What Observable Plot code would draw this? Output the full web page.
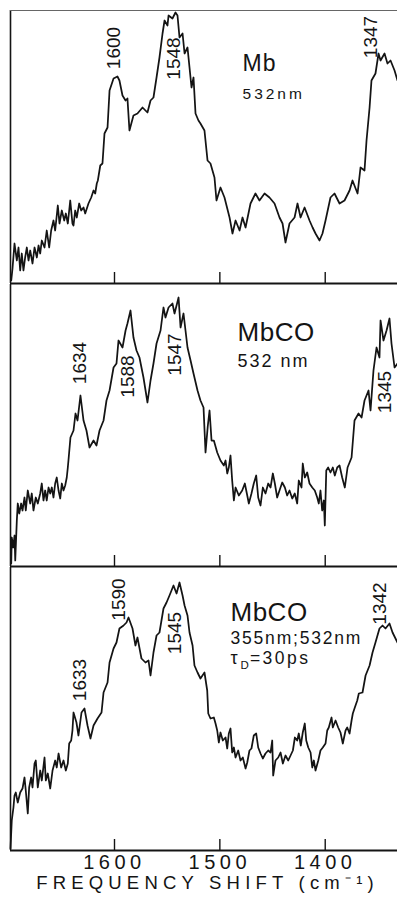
<!DOCTYPE html>
<html>
<head>
<meta charset="utf-8">
<script src="https://cdn.jsdelivr.net/npm/d3@7"></script>
<script src="https://cdn.jsdelivr.net/npm/@observablehq/plot@0.6"></script>
<style>
  html, body { margin: 0; padding: 0; background: #fff; }
  #chart svg { display: block; }
</style>
</head>
<body>
<div id="chart"></div>
<script>
// ---- axis ----
const xDomain = [1698.7, 1331.4];          // frequency shift, cm^-1 (reversed)
const tickValues = [1600, 1500, 1400];
const tickLabels = ["1600", "1500", "1400"];
const xLabel = "FREQUENCY SHIFT (cm⁻¹)";

// ---- panel 1 : Mb, 532 nm  [shift, intensity] ----
const mbSpectrum = [
  [1698.0,3],[1696.8,15],[1694.9,40],[1692.7,23],[1691.1,36],[1689.5,13],[1688.0,30],[1686.4,13],[1684.8,26],[1683.2,36],
  [1681.6,23],[1680.0,33],[1677.8,20],[1675.9,36],[1673.7,26],[1672.1,38],[1670.5,30],[1669.0,43],[1666.4,36],[1664.3,53],
  [1662.0,36],[1660.1,53],[1657.9,63],[1656.3,53],[1653.8,78],[1652.2,60],[1650.0,73],[1647.7,63],[1646.2,70],[1644.3,60],
  [1642.0,83],[1639.9,60],[1638.9,58],[1637.3,73],[1635.8,66],[1633.5,80],[1631.6,73],[1629.4,76],[1627.8,70],[1624.7,80],
  [1622.1,86],[1619.9,93],[1618.3,90],[1616.8,100],[1615.8,103],[1613.5,118],[1611.4,120],[1609.5,150],[1606.6,156],[1604.7,193],
  [1600.9,205],[1597.2,207],[1595.3,203],[1592.4,188],[1589.5,183],[1587.7,185],[1585.8,153],[1582.0,168],[1578.2,170],[1573.4,176],
  [1568.7,171],[1565.8,183],[1563.0,186],[1560.1,206],[1557.3,226],[1554.4,250],[1552.5,263],[1549.7,258],[1548.7,268],[1545.0,265],
  [1542.1,271],[1540.2,268],[1538.3,246],[1535.4,250],[1533.5,230],[1530.7,236],[1528.8,216],[1526.9,196],[1525.0,206],[1523.1,170],
  [1520.3,163],[1518.4,160],[1514.6,153],[1511.7,123],[1508.9,120],[1505.1,106],[1503.2,83],[1499.4,96],[1495.6,86],[1490.8,66],
  [1488.0,50],[1485.1,63],[1481.3,53],[1478.5,66],[1475.6,56],[1470.9,80],[1466.2,90],[1462.4,83],[1457.6,90],[1452.9,86],
  [1448.1,80],[1443.4,66],[1440.5,60],[1437.7,41],[1433.9,60],[1429.1,66],[1426.3,80],[1423.4,66],[1419.6,76],[1414.9,63],
  [1412.0,56],[1409.2,50],[1405.4,43],[1402.6,50],[1399.7,63],[1395.0,86],[1391.2,90],[1386.4,80],[1381.7,83],[1376.9,93],
  [1374.1,103],[1369.3,90],[1366.5,116],[1362.7,113],[1360.8,143],[1357.9,176],[1356.1,203],[1352.3,210],[1349.4,230],[1347.5,223],
  [1343.7,230],[1340.9,220],[1338.0,223],[1334.2,213],[1331.4,203]
];
const mbPeaks = [
  {label: "1600", x: 1601, y: 235.5},
  {label: "1548", x: 1544, y: 225},
  {label: "1347", x: 1357, y: 246.5}
];
const mbNotes = [
  {text: "Mb", x: 1478.5, y: 219.5, size: 23, spacing: 1},
  {text: "532nm", x: 1478.5, y: 189.5, size: 15.5, spacing: 3}
];

// ---- panel 2 : MbCO, 532 nm ----
const mbcoSpectrum = [
  [1698.0,3],[1697.5,29],[1696.1,19],[1694.9,31],[1694.2,6],[1692.7,46],[1691.8,63],[1690.4,53],[1688.6,63],[1687.3,56],
  [1685.4,69],[1684.2,56],[1682.3,76],[1680.0,63],[1678.5,73],[1676.9,56],[1674.7,69],[1672.8,63],[1670.5,73],[1669.0,83],
  [1667.4,66],[1665.8,76],[1664.3,66],[1662.6,79],[1661.0,73],[1659.5,79],[1657.9,69],[1656.3,83],[1654.8,89],[1653.1,76],
  [1651.5,68],[1650.0,83],[1648.4,76],[1646.8,81],[1645.3,89],[1644.3,99],[1643.7,106],[1641.8,129],[1638.9,136],[1637.0,153],
  [1635.1,146],[1632.3,171],[1629.4,146],[1626.6,136],[1623.7,119],[1619.9,126],[1617.1,121],[1614.2,136],[1610.4,146],[1607.6,166],
  [1604.7,176],[1600.9,199],[1598.1,203],[1596.2,226],[1592.4,219],[1589.5,236],[1587.7,243],[1584.8,256],[1582.0,229],[1579.1,216],
  [1576.3,209],[1572.5,189],[1568.7,164],[1565.8,186],[1563.0,203],[1560.1,223],[1556.3,236],[1553.5,259],[1551.6,249],[1548.7,259],
  [1545.0,263],[1543.0,253],[1539.2,269],[1537.3,239],[1534.5,253],[1532.6,236],[1530.7,219],[1527.8,206],[1525.0,193],[1521.2,176],
  [1518.4,166],[1515.5,159],[1513.6,114],[1511.5,140],[1509.8,156],[1507.9,126],[1505.7,126],[1502.5,114],[1499.4,106],[1496.2,101],
  [1494.6,106],[1493.0,93],[1491.5,99],[1489.9,111],[1488.3,86],[1486.7,66],[1485.1,79],[1482.0,71],[1478.8,76],[1476.3,83],
  [1474.0,71],[1472.5,63],[1470.0,73],[1467.8,83],[1465.5,91],[1463.6,69],[1461.4,61],[1459.2,79],[1456.7,73],[1454.1,83],
  [1451.9,79],[1449.7,93],[1447.8,83],[1445.6,69],[1443.4,76],[1440.8,84],[1438.3,79],[1436.1,71],[1433.9,76],[1431.3,68],
  [1428.9,73],[1426.6,63],[1425.1,86],[1422.5,79],[1421.3,103],[1419.4,89],[1417.1,94],[1414.9,83],[1412.3,79],[1409.9,76],
  [1407.6,69],[1406.1,63],[1404.5,76],[1402.9,56],[1401.3,66],[1400.4,41],[1399.0,96],[1397.2,99],[1395.0,94],[1392.8,99],
  [1390.9,91],[1388.6,99],[1386.4,101],[1383.9,89],[1381.4,79],[1378.8,99],[1375.0,109],[1372.2,146],[1368.4,153],[1365.5,149],
  [1362.7,166],[1358.9,176],[1357.0,156],[1354.2,196],[1351.3,219],[1348.5,209],[1347.5,246],[1344.7,226],[1341.8,236],[1339.0,248],
  [1337.1,223],[1334.2,199],[1331.4,203]
];
const mbcoPeaks = [
  {label: "1634", x: 1633.2, y: 203.5},
  {label: "1588", x: 1587.2, y: 190},
  {label: "1547", x: 1543.0, y: 212},
  {label: "1345", x: 1343.7, y: 174.5}
];
const mbcoNotes = [
  {text: "MbCO", x: 1483.2, y: 234, size: 26, spacing: 0.5},
  {text: "532 nm", x: 1483.2, y: 205.5, size: 18, spacing: 2}
];

// ---- panel 3 : MbCO, 355 nm ; 532 nm, tau_D = 30 ps ----
const pumpSpectrum = [
  [1698.7,2],[1697.5,30],[1695.9,43],[1694.9,55],[1693.7,58],[1691.8,48],[1689.5,58],[1687.3,62],[1685.4,73],[1684.2,60],
  [1682.3,37],[1681.0,63],[1679.1,73],[1677.8,63],[1675.9,87],[1674.7,90],[1672.8,63],[1670.5,80],[1669.0,70],[1666.4,93],
  [1665.2,70],[1663.3,77],[1661.0,62],[1658.8,80],[1656.3,90],[1654.8,83],[1653.1,97],[1650.6,83],[1648.4,90],[1646.2,80],
  [1644.3,87],[1643.0,107],[1641.1,110],[1639.9,120],[1638.9,138],[1636.1,128],[1634.2,115],[1631.3,138],[1628.5,142],[1625.6,125],
  [1622.8,112],[1619.9,125],[1616.1,132],[1612.3,138],[1610.4,158],[1606.6,168],[1604.7,188],[1600.9,202],[1598.1,208],[1595.3,222],
  [1591.4,225],[1588.6,228],[1586.7,233],[1582.9,222],[1580.1,205],[1578.2,213],[1574.4,192],[1570.6,188],[1567.7,190],[1565.8,175],
  [1563.0,198],[1560.1,215],[1557.3,218],[1553.5,242],[1550.6,248],[1547.8,255],[1544.0,265],[1541.1,257],[1538.3,268],[1535.4,255],
  [1533.5,245],[1530.7,235],[1528.8,218],[1525.9,205],[1524.1,185],[1521.2,178],[1518.4,172],[1514.6,178],[1512.0,160],[1511.0,137],
  [1508.9,132],[1505.7,133],[1504.1,127],[1502.5,120],[1501.0,108],[1499.4,118],[1497.2,110],[1494.6,113],[1493.0,102],[1491.5,117],
  [1489.9,122],[1488.3,98],[1486.7,103],[1485.1,93],[1482.6,100],[1480.4,90],[1478.2,93],[1475.6,82],[1474.0,88],[1471.9,100],
  [1470.0,102],[1467.8,115],[1465.5,117],[1463.6,103],[1461.4,97],[1459.2,92],[1456.7,97],[1454.1,100],[1451.9,98],[1450.3,110],
  [1449.4,75],[1447.2,90],[1444.6,93],[1442.4,98],[1440.2,87],[1437.7,95],[1435.1,90],[1432.9,95],[1430.7,100],[1428.8,113],
  [1426.6,110],[1425.1,117],[1423.2,105],[1421.3,118],[1419.4,127],[1418.0,110],[1416.1,103],[1413.9,98],[1412.3,83],[1410.8,90],
  [1409.2,80],[1406.6,90],[1404.5,100],[1402.3,103],[1399.7,107],[1398.1,120],[1396.6,123],[1394.0,133],[1392.8,123],[1390.2,130],
  [1387.7,123],[1385.5,118],[1383.3,107],[1380.7,120],[1379.1,123],[1376.9,117],[1375.0,130],[1373.8,137],[1371.9,143],[1369.6,150],
  [1368.1,157],[1364.6,158],[1361.7,175],[1357.9,185],[1355.1,198],[1352.3,208],[1348.5,222],[1345.6,225],[1342.8,222],[1339.0,227],
  [1336.1,218],[1331.4,208]
];
const pumpPeaks = [
  {label: "1633", x: 1633.2, y: 170.5},
  {label: "1590", x: 1596.2, y: 251},
  {label: "1545", x: 1543.0, y: 217.5},
  {label: "1342", x: 1348.5, y: 247}
];
const pumpNotes = [
  {text: "MbCO", x: 1489.9, y: 238, size: 26, spacing: 0.5},
  {text: "355nm;532nm", x: 1489.9, y: 212.5, size: 17.5, spacing: 1.8},
  {text: "τ", x: 1489.9, y: 192, size: 18, spacing: 0},
  {text: "D", x: 1480.4, y: 185, size: 11.5, spacing: 0},
  {text: "=30ps", x: 1471.5, y: 192, size: 17.5, spacing: 2.5}
];

// ---- drawing ----
const ink = "#141414";
const font = "'Liberation Sans', Arial, sans-serif";

function panel({spectrum, yMax, height, marginTop, marginBottom, topLine, peaks, notes, bottomAxis}) {
  const marks = [
    Plot.ruleX([xDomain[0]], {y1: 0, y2: yMax, stroke: ink, strokeWidth: 1.6}),
    Plot.ruleY([0], {stroke: ink, strokeWidth: 1.8}),
    Plot.ruleX(tickValues, {y1: 0, y2: 11, stroke: ink, strokeWidth: 1.4}),
    Plot.line(spectrum, {x: d => d[0], y: d => d[1], stroke: ink, strokeWidth: 1.75, strokeLinejoin: "round"}),
    Plot.text(peaks, {x: "x", y: "y", text: "label", rotate: -90, fontSize: 19, fill: ink, textAnchor: "middle"})
  ];
  if (topLine) marks.push(Plot.ruleY([yMax], {stroke: "#666", strokeWidth: 1.1}));
  for (const n of notes) {
    marks.push(Plot.text([n], {x: "x", y: "y", text: "text", fontSize: n.size, textAnchor: "start", fill: ink,
      ariaDescription: "spacing:" + n.spacing}));
  }
  if (bottomAxis) {
    marks.push(Plot.text(tickValues, {x: d => d, text: (d, i) => tickLabels[i], frameAnchor: "bottom", dy: 18,
      fontSize: 20, fill: ink, ariaDescription: "spacing:4.5"}));
    marks.push(Plot.text([xLabel], {text: d => d, frameAnchor: "bottom", dy: 38, dx: 3.5,
      fontSize: 18.5, fill: ink, ariaDescription: "spacing:5.2"}));
  }
  const svg = Plot.plot({
    width: 397, height, marginLeft: 10, marginRight: 0, marginTop, marginBottom,
    x: {domain: xDomain, axis: null},
    y: {domain: [0, yMax], axis: null},
    style: {fontFamily: font, background: "#fff", overflow: "visible"},
    marks
  });
  svg.querySelectorAll("g[aria-description]").forEach(g => {
    const m = /^spacing:(.*)$/.exec(g.getAttribute("aria-description"));
    if (m) g.style.letterSpacing = m[1] + "px";
  });
  return svg;
}

const chart = document.getElementById("chart");
chart.append(panel({spectrum: mbSpectrum, yMax: 273, height: 284, marginTop: 10, marginBottom: 1, topLine: true, peaks: mbPeaks, notes: mbNotes}));
chart.append(panel({spectrum: mbcoSpectrum, yMax: 282, height: 283, marginTop: 0, marginBottom: 1, peaks: mbcoPeaks, notes: mbcoNotes}));
chart.append(panel({spectrum: pumpSpectrum, yMax: 283, height: 349, marginTop: 0, marginBottom: 66, peaks: pumpPeaks, notes: pumpNotes, bottomAxis: true}));
</script>
</body>
</html>
